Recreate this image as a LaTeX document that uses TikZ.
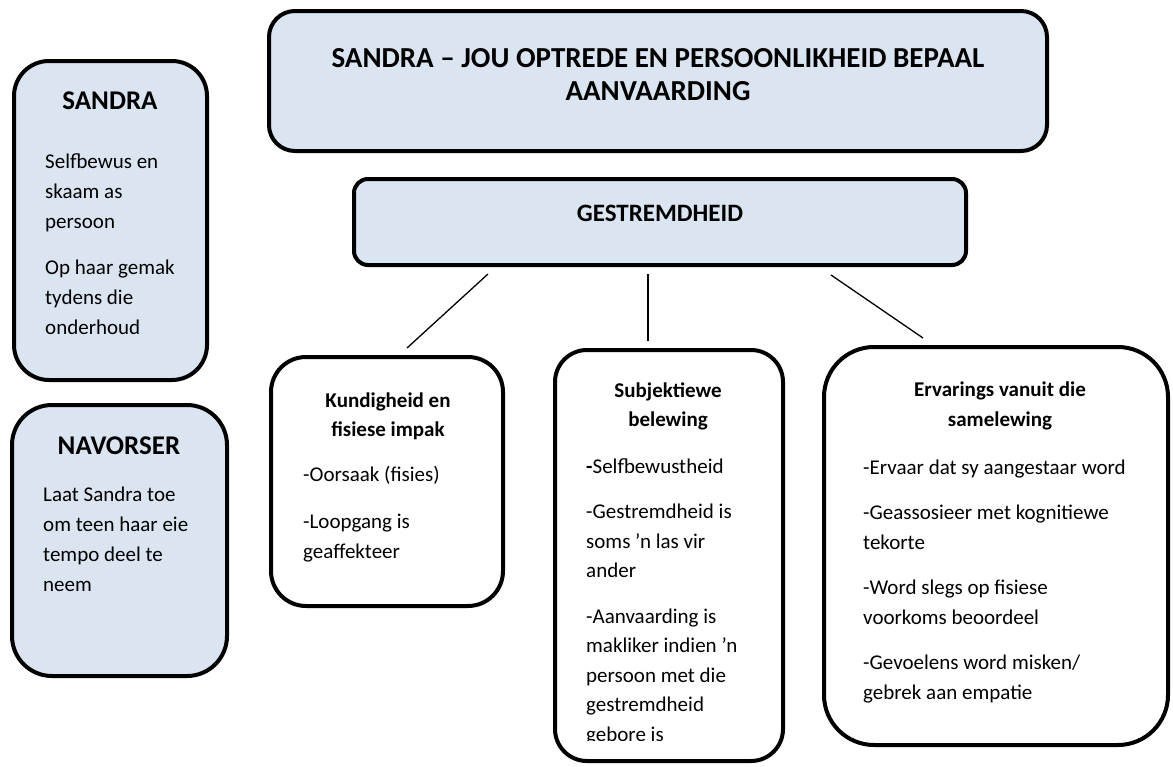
\documentclass[tikz,border=0pt]{standalone}
\usepackage{fontspec}
\setmainfont{Carlito}
\definecolor{boxblue}{HTML}{DBE5F1}
\begin{document}
\begin{tikzpicture}[x=1pt,y=-1pt,
  panel/.style={draw=black,line width=4pt,rounded corners=#1,inner sep=0pt},
  bluepanel/.style={panel=#1,fill=boxblue},
  whitepanel/.style={panel=#1,fill=white},
  heading/.style={font=\bfseries\fontsize{29}{33}\selectfont,inner sep=0pt,align=center,anchor=base},
  sidehead/.style={font=\bfseries\fontsize{27}{30}\selectfont,inner sep=0pt,anchor=base},
  subhead/.style={font=\bfseries\fontsize{21}{29}\selectfont,inner sep=0pt,align=center,anchor=base},
  body/.style={font=\fontsize{21}{30}\selectfont,inner sep=0pt,align=left,anchor=base west},
  link/.style={draw=black,line width=1.3pt}]
\useasboundingbox (0,0) rectangle (1173,766);

% panels
\node[bluepanel=26pt,minimum width=778pt,minimum height=140pt] (title) at (658,81) {};
\node[bluepanel=14pt,minimum width=612pt,minimum height=86pt] (gest) at (660,222) {};
\node[bluepanel=35pt,minimum width=193pt,minimum height=319pt] (sandra) at (110.5,220.5) {};
\node[bluepanel=40pt,minimum width=215pt,minimum height=271pt] (nav) at (119.5,540.5) {};
\node[whitepanel=35pt,minimum width=232pt,minimum height=249pt] (kund) at (387,481.5) {};
\node[whitepanel=32pt,minimum width=228pt,minimum height=411pt] (subj) at (669,555.5) {};
\node[whitepanel=50pt,minimum width=344pt,minimum height=398pt] (erv) at (996,546) {};

% connectors from the disability panel to the three themes
\draw[link] ([shift={(136,7)}]gest.south west) -- ([shift={(138,-7)}]kund.north west);
\draw[link,line width=2pt] ([shift={(296,7)}]gest.south west) -- ([shift={(95,-7)}]subj.north west);
\draw[link] ([shift={(479,8)}]gest.south west) -- ([shift={(101,-7)}]erv.north west);

% headings (anchored at the baseline of their last line)
\node[heading] (titletext) at (658,100) {SANDRA – JOU OPTREDE EN PERSOONLIKHEID BEPAAL\\AANVAARDING};
\node[heading,font=\bfseries\fontsize{25}{30}\selectfont] (gesttext) at (660,221) {GESTREMDHEID};
\node[sidehead] (sandrahead) at (110,109) {SANDRA};
\node[sidehead] (navhead) at (119,454) {NAVORSER};

% side panels
\node[body] (sandrabody) at (45,334) {Selfbewus en\\skaam as\\persoon\\[16pt]Op haar gemak\\tydens die\\onderhoud};
\node[body] (navbody) at (43,591) {Laat Sandra toe\\om teen haar eie\\tempo deel te\\neem};

% theme panels
\node[subhead] (kundhead) at (388,436) {Kundigheid en\\fisiese impak};
\node[body] (kundbody) at (303,558) {-Oorsaak (fisies)\\[17pt]-Loopgang is\\geaffekteer};

\node[subhead] (subjhead) at (668,426) {Subjektiewe\\belewing};
% the last line runs past the text area and is cut off
\begin{scope}
  \clip (556,440) rectangle (782,740.5);
  \node[body,font=\fontsize{21}{29.5}\selectfont] (subjbody) at (586,741) {\textbf{-}Selfbewustheid\\[16pt]-Gestremdheid is\\soms ’n las vir\\ander\\[16pt]-Aanvaarding is\\makliker indien ’n\\persoon met die\\gestremdheid\\gebore is};
\end{scope}

\node[subhead,font=\bfseries\fontsize{21}{30}\selectfont] (ervhead) at (1000,426) {Ervarings vanuit die\\samelewing};
\node[body,font=\fontsize{21}{29.5}\selectfont] (ervbody) at (863,699) {-Ervaar dat sy aangestaar word\\[16pt]-Geassosieer met kognitiewe\\tekorte\\[16pt]-Word slegs op fisiese\\voorkoms beoordeel\\[16pt]-Gevoelens word misken/\\gebrek aan empatie};
\end{tikzpicture}
\end{document}
